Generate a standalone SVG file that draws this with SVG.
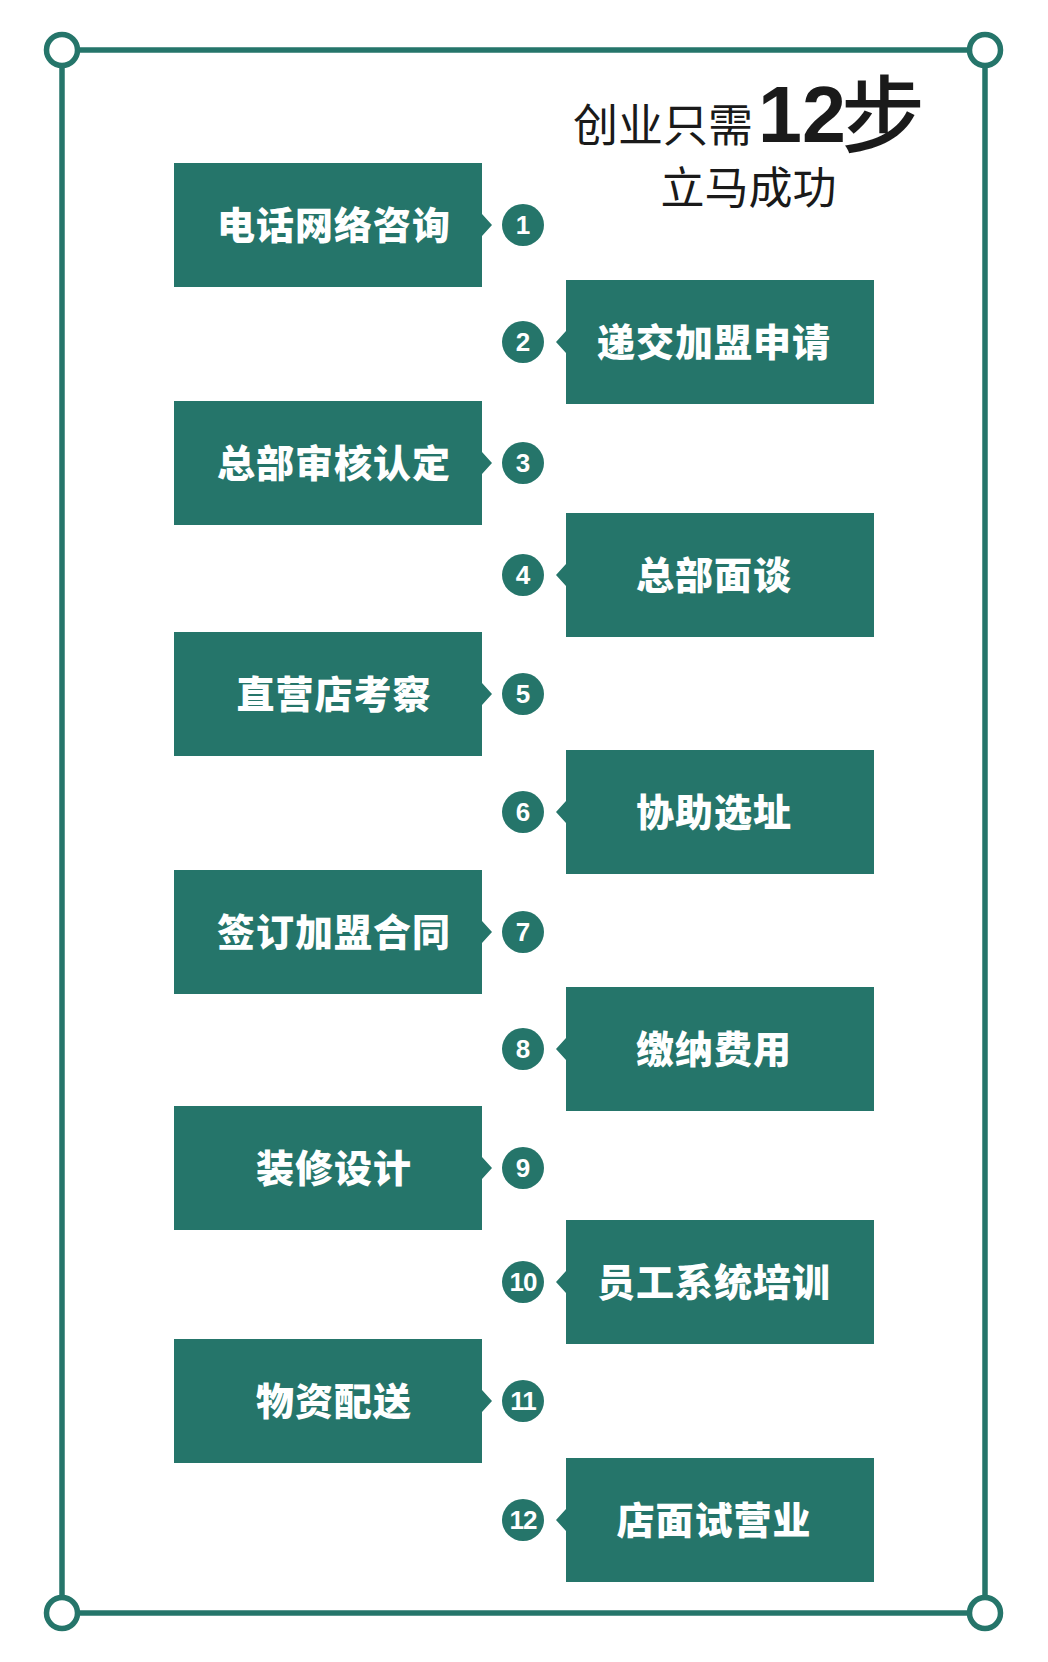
<svg xmlns="http://www.w3.org/2000/svg" width="1048" height="1662" viewBox="0 0 1048 1662">
<style>
.box{fill:#25756a}
.lbl{font-family:"Noto Sans CJK SC","Noto Sans",sans-serif;font-weight:900;font-size:38px;fill:#ffffff;text-anchor:middle;letter-spacing:1px}
.num{fill:#25756a}
.numt{font-family:"Liberation Sans",Arial,sans-serif;font-weight:bold;font-size:26px;fill:#ffffff;text-anchor:middle}
.frame{stroke:#25756a;stroke-width:5.5;fill:none}
.corner{stroke:#25756a;stroke-width:5.5;fill:#ffffff}
.title{font-family:"Noto Sans CJK SC","Noto Sans",sans-serif;fill:#1a1a1a}
</style>
<rect width="1048" height="1662" fill="#ffffff"/>
<g id="frame">
<line class="frame" x1="62" y1="50" x2="985" y2="50"/>
<line class="frame" x1="62" y1="1613" x2="985" y2="1613"/>
<line class="frame" x1="62" y1="50" x2="62" y2="1613"/>
<line class="frame" x1="985" y1="50" x2="985" y2="1613"/>
<circle class="corner" cx="62" cy="50" r="15.5"/>
<circle class="corner" cx="985" cy="50" r="15.5"/>
<circle class="corner" cx="62" cy="1613" r="15.5"/>
<circle class="corner" cx="985" cy="1613" r="15.5"/>
</g>
<g id="title">
<text class="title" x="573" y="142" font-size="45" font-weight="400">创业只需</text>
<text x="758" y="142" font-family="Liberation Sans,Arial,sans-serif" font-weight="bold" font-size="79" fill="#1a1a1a">12</text>
<text class="title" x="841" y="146" font-size="84" font-weight="500">步</text>
<text class="title" x="748.5" y="204" font-size="44" font-weight="400" text-anchor="middle">立马成功</text>
</g>
<g id="connectors"></g>
<g id="step1">
<path class="box" d="M174,163 H482 V214 L492,225 L482,236 V287 H174 Z"/>
<text class="lbl" x="334" y="239">电话网络咨询</text>
<circle class="num" cx="523" cy="225" r="21"/><text class="numt" x="523" y="234">1</text>
</g>
<g id="step2">
<path class="box" d="M566,280 H874 V404 H566 V353 L556,342 L566,331 Z"/>
<text class="lbl" x="714" y="356">递交加盟申请</text>
<circle class="num" cx="523" cy="342" r="21"/><text class="numt" x="523" y="351">2</text>
</g>
<g id="step3">
<path class="box" d="M174,401 H482 V452 L492,463 L482,474 V525 H174 Z"/>
<text class="lbl" x="334" y="477">总部审核认定</text>
<circle class="num" cx="523" cy="463" r="21"/><text class="numt" x="523" y="472">3</text>
</g>
<g id="step4">
<path class="box" d="M566,513 H874 V637 H566 V586 L556,575 L566,564 Z"/>
<text class="lbl" x="714" y="589">总部面谈</text>
<circle class="num" cx="523" cy="575" r="21"/><text class="numt" x="523" y="584">4</text>
</g>
<g id="step5">
<path class="box" d="M174,632 H482 V683 L492,694 L482,705 V756 H174 Z"/>
<text class="lbl" x="334" y="708">直营店考察</text>
<circle class="num" cx="523" cy="694" r="21"/><text class="numt" x="523" y="703">5</text>
</g>
<g id="step6">
<path class="box" d="M566,750 H874 V874 H566 V823 L556,812 L566,801 Z"/>
<text class="lbl" x="714" y="826">协助选址</text>
<circle class="num" cx="523" cy="812" r="21"/><text class="numt" x="523" y="821">6</text>
</g>
<g id="step7">
<path class="box" d="M174,870 H482 V921 L492,932 L482,943 V994 H174 Z"/>
<text class="lbl" x="334" y="946">签订加盟合同</text>
<circle class="num" cx="523" cy="932" r="21"/><text class="numt" x="523" y="941">7</text>
</g>
<g id="step8">
<path class="box" d="M566,987 H874 V1111 H566 V1060 L556,1049 L566,1038 Z"/>
<text class="lbl" x="714" y="1063">缴纳费用</text>
<circle class="num" cx="523" cy="1049" r="21"/><text class="numt" x="523" y="1058">8</text>
</g>
<g id="step9">
<path class="box" d="M174,1106 H482 V1157 L492,1168 L482,1179 V1230 H174 Z"/>
<text class="lbl" x="334" y="1182">装修设计</text>
<circle class="num" cx="523" cy="1168" r="21"/><text class="numt" x="523" y="1177">9</text>
</g>
<g id="step10">
<path class="box" d="M566,1220 H874 V1344 H566 V1293 L556,1282 L566,1271 Z"/>
<text class="lbl" x="714" y="1296">员工系统培训</text>
<circle class="num" cx="523" cy="1282" r="21"/><text class="numt" x="523" y="1291" letter-spacing="-1">10</text>
</g>
<g id="step11">
<path class="box" d="M174,1339 H482 V1390 L492,1401 L482,1412 V1463 H174 Z"/>
<text class="lbl" x="334" y="1415">物资配送</text>
<circle class="num" cx="523" cy="1401" r="21"/><text class="numt" x="523" y="1410" letter-spacing="-1">11</text>
</g>
<g id="step12">
<path class="box" d="M566,1458 H874 V1582 H566 V1531 L556,1520 L566,1509 Z"/>
<text class="lbl" x="714" y="1534">店面试营业</text>
<circle class="num" cx="523" cy="1520" r="21"/><text class="numt" x="523" y="1529" letter-spacing="-1">12</text>
</g>
</svg>
